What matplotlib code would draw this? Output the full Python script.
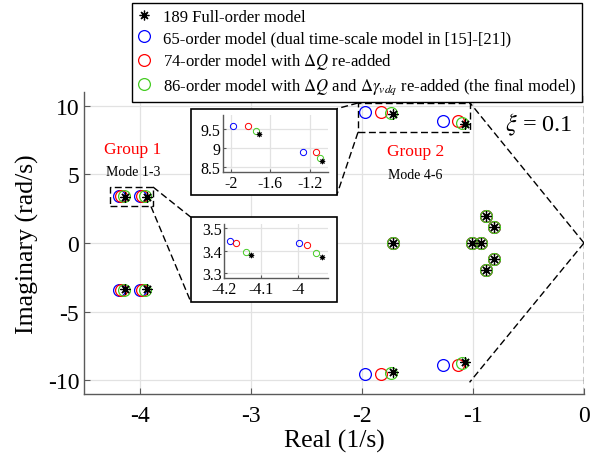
import numpy as np
import matplotlib
matplotlib.use('Agg')
import matplotlib.pyplot as plt
from matplotlib.lines import Line2D
from matplotlib.patches import Rectangle
from matplotlib.ticker import FuncFormatter

plt.rcParams['font.family'] = ['Liberation Serif', 'DejaVu Serif']
plt.rcParams['mathtext.fontset'] = 'stix'
plt.rcParams['axes.unicode_minus'] = False

# eigenvalues (real, imag)
full_re = [-4.127, -4.127, -3.936, -3.936, -1.716, -1.716, -1.075, -1.075,
           -1.72, -1.01, -0.93, -0.88, -0.88, -0.81, -0.81]
full_im = [3.383, -3.383, 3.374, -3.374, 9.37, -9.37, 8.65, -8.65,
           0.0, 0.0, 0.0, 1.97, -1.97, 1.13, -1.13]

m65_re = [-4.184, -4.184, -3.997, -3.997, -1.975, -1.975, -1.27, -1.27,
          -1.72, -1.01, -0.93, -0.88, -0.88, -0.81, -0.81]
m65_im = [3.444, -3.444, 3.435, -3.435, 9.56, -9.56, 8.90, -8.90,
          0.0, 0.0, 0.0, 1.97, -1.97, 1.13, -1.13]

m74_re = [-4.168, -4.168, -3.975, -3.975, -1.83, -1.83, -1.135, -1.135,
          -1.72, -1.01, -0.93, -0.88, -0.88, -0.81, -0.81]
m74_im = [3.435, -3.435, 3.428, -3.428, 9.56, -9.56, 8.88, -8.88,
          0.0, 0.0, 0.0, 1.97, -1.97, 1.13, -1.13]

m86_re = [-4.141, -4.141, -3.952, -3.952, -1.74, -1.74, -1.10, -1.10,
          -1.72, -1.01, -0.93, -0.88, -0.88, -0.81, -0.81]
m86_im = [3.394, -3.394, 3.389, -3.389, 9.44, -9.44, 8.73, -8.73,
          0.0, 0.0, 0.0, 1.97, -1.97, 1.13, -1.13]

labels = ['189 Full-order model',
          '65-order model (dual time-scale model in [15]-[21])',
          r'74-order model with $\Delta Q$ re-added',
          r'86-order model with $\Delta Q$ and $\Delta\gamma_{vdq}$ re-added (the final model)']

blue = '#0000ff'
red = '#ff0000'
green = '#44cc22'
star = (8, 2, 0)
W, H = 603, 456

fig = plt.figure(figsize=(6.03, 4.56), dpi=100)


def fx(px):
    return px / W


def fy(py):
    return 1 - py / H


def style_axes(a, fs):
    for s in ['top', 'right']:
        a.spines[s].set_visible(False)
    for s in ['left', 'bottom']:
        a.spines[s].set_color('#5a5a5a')
        a.spines[s].set_linewidth(1.0)
    a.grid(True, color='#e2e2e2', lw=0.9)
    a.set_axisbelow(True)
    a.tick_params(direction='in', color='#5a5a5a', labelsize=fs, length=4)
    fmt = FuncFormatter(lambda v, p: '%g' % v)
    a.xaxis.set_major_formatter(fmt)
    a.yaxis.set_major_formatter(fmt)


def draw_points(a, ms, mew):
    a.plot(m65_re, m65_im, 'o', ms=ms, mfc='none', mec=blue, mew=mew, ls='none')
    a.plot(m74_re, m74_im, 'o', ms=ms, mfc='none', mec=red, mew=mew, ls='none')
    a.plot(m86_re, m86_im, 'o', ms=ms, mfc='none', mec=green, mew=mew, ls='none')
    a.plot(full_re, full_im, marker=star, ms=ms * 0.85, color='k', mew=mew, ls='none')


dash = (0, (5, 2.5))

# main axes
ax = fig.add_axes([fx(84), fy(395), fx(500), (395 - 93) / H])
style_axes(ax, 17)
draw_points(ax, 8.5, 0.9)
ax.set_xlim(-4.5, 0)
ax.set_ylim(-11, 11)
ax.set_xticks([-4, -3, -2, -1, 0])
ax.set_yticks([-10, -5, 0, 5, 10])
ax.tick_params(axis='x', pad=8)
ax.set_xlabel('Real (1/s)', fontsize=18.5, labelpad=2)
ax.set_ylabel('Imaginary (rad/s)', fontsize=18.5, labelpad=6)

# damping ratio lines and zoom boxes
ax.plot([0, -1.025], [0, 10.2], color='k', lw=1, ls=dash)
ax.plot([0, -1.03], [0, -10.15], color='k', lw=1, ls=dash)
ax.axvline(0, color='k', lw=1, ls=dash)
ax.add_patch(Rectangle((-4.27, 2.73), 0.39, 1.38, fill=False, ec='k', lw=1, ls=dash))
ax.add_patch(Rectangle((-2.03, 8.09), 1.005, 2.13, fill=False, ec='k', lw=1, ls=dash))

ax.text(-4.06, 6.82, 'Group 1', color='red', fontsize=12.5, ha='center', va='center')
ax.text(-4.06, 5.18, 'Mode 1-3', color='k', fontsize=10, ha='center', va='center')
ax.text(-1.516, 6.68, 'Group 2', color='red', fontsize=12.5, ha='center', va='center')
ax.text(-1.516, 4.98, 'Mode 4-6', color='k', fontsize=10, ha='center', va='center')
ax.text(-0.405, 8.7, r'$\xi$ = 0.1', fontsize=17.5, ha='center', va='center')

# inset frames and connector lines (figure pixels)
for (x0, y0, x1, y1) in [(191, 109.7, 336.7, 196.3), (191, 218.3, 336.7, 303.3)]:
    fig.patches.append(Rectangle((fx(x0), fy(y1)), fx(x1 - x0), (y1 - y0) / H,
                                 transform=fig.transFigure, fc='white', ec='k',
                                 lw=1.2, zorder=1))
for (x0, y0, x1, y1) in [(153, 188, 191, 218.3), (151, 207.5, 191, 303.3),
                         (358, 104, 336.7, 109.7), (358, 133.3, 336.7, 196.3)]:
    fig.lines.append(Line2D([fx(x0), fx(x1)], [fy(y0), fy(y1)], transform=fig.transFigure,
                            color='k', lw=1, ls=dash, zorder=1))

# inset 1: group 2 upper
ax1 = fig.add_axes([fx(223.3), fy(173), fx(104.7), 57 / H], zorder=2)
style_axes(ax1, 11.5)
draw_points(ax1, 4.5, 0.7)
ax1.set_xlim(-2.075, -1.017)
ax1.set_ylim(8.37, 9.86)
ax1.set_xticks([-2, -1.6, -1.2])
ax1.set_yticks([8.5, 9, 9.5])
ax1.tick_params(length=2, pad=2)

# inset 2: group 1 upper
ax2 = fig.add_axes([fx(224.3), fy(279.3), fx(104), 54.3 / H], zorder=2)
style_axes(ax2, 11.5)
draw_points(ax2, 4.5, 0.7)
ax2.set_xlim(-4.2, -3.918)
ax2.set_ylim(3.278, 3.52)
ax2.set_xticks([-4.2, -4.1, -4])
ax2.set_yticks([3.3, 3.4, 3.5])
ax2.tick_params(length=2, pad=2)

# legend
handles = [Line2D([], [], marker=star, color='k', ms=7, mew=0.9, ls='none'),
           Line2D([], [], marker='o', mfc='none', mec=blue, ms=8.5, mew=0.9, ls='none'),
           Line2D([], [], marker='o', mfc='none', mec=red, ms=8.5, mew=0.9, ls='none'),
           Line2D([], [], marker='o', mfc='none', mec=green, ms=8.5, mew=0.9, ls='none')]
leg = fig.legend(handles, labels, loc='upper left', bbox_to_anchor=(fx(132), fy(4)),
                 fontsize=12, frameon=True, fancybox=False, edgecolor='k',
                 borderpad=0.35, borderaxespad=0, handlelength=0.7, handletextpad=0.8,
                 labelspacing=0.32, framealpha=1)
leg.get_frame().set_linewidth(1.0)

fig.savefig('out.png', dpi=100)
